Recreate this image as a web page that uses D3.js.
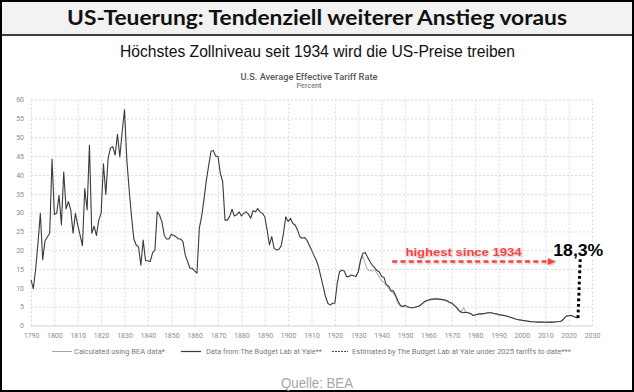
<!DOCTYPE html>
<html>
<head>
<meta charset="utf-8">
<script src="https://cdn.jsdelivr.net/npm/d3@7"></script>
<style>
  body { margin: 0; background: #fff; }
  svg { display: block; }
</style>
</head>
<body>
<div id="chart"></div>
<script>
/*** DATA *********************************************************************/

// Average effective tariff rate, The Budget Lab at Yale, one value per year from 1790
let yaleStart = 1790;
let yaleRates = [
  12.1, 9.8, 15, 22, 29.8, 17.5, 22.5, 23.5, 24.5, 44.2,       // 1790s
  29.5, 29.8, 34.6, 26.8, 40.8, 31, 32.9, 30.7, 24.5, 29.8,    // 1800s
  26.7, 24, 21.2, 36.4, 30.7, 47.9, 24.5, 26.4, 23.9, 28,      // 1810s
  29.8, 43, 34.8, 44.4, 47.2, 47.5, 45.3, 50.8, 44.8, 51.5,    // 1820s
  57.3, 44, 36, 29, 23, 21.4, 20.9, 16, 22.7, 17.2,            // 1830s
  17.2, 17, 19.3, 20, 30.2, 29.3, 27.6, 24, 23, 23,            // 1840s
  24.2, 24, 23.6, 23, 23, 22.3, 18.7, 17, 15.2, 15.2,          // 1850s
  14.5, 13.9, 25.8, 29, 33.5, 38.5, 42.5, 46.3, 46.5, 45,      // 1860s
  44.9, 40.5, 38.2, 28, 28, 29, 30.9, 29.1, 29.4, 30.2,        // 1870s
  29.1, 29.8, 30.2, 29.6, 28.5, 30.5, 30.2, 31.1, 30.2, 29.8,  // 1880s
  28.9, 25.4, 21.4, 23.6, 20.5, 20.1, 20.2, 21.1, 24.5, 28.9,  // 1890s
  27.6, 28.5, 27.1, 26.7, 25.4, 23.6, 23.2, 23.4, 22.7, 21.4,  // 1900s
  20.1, 18.7, 17.4, 15.6, 13, 10.3, 7.7, 5.9, 5.4, 5.9,        // 1910s
  5.9, 11.2, 14.3, 14.7, 14.5, 13, 13, 13.4, 13.2, 13,         // 1920s
  14.3, 17.4, 19.2, 19.4, 18.1, 17, 16, 15.4, 14.6, 14.2,      // 1930s
  13, 12.8, 10.8, 10.5, 9.2, 9.2, 8, 6.5, 5.4, 5,              // 1940s
  5.3, 5, 4.8, 4.7, 4.8, 5, 5.2, 5.6, 6.2, 6.6,                // 1950s
  6.8, 7, 7, 7.1, 7, 7, 6.9, 6.8, 6.6, 6.2,                    // 1960s
  6, 5.4, 4.9, 4.1, 3.6, 3.4, 3.5, 3.4, 3.2, 2.7,              // 1970s
  2.8, 3, 3.1, 3.1, 3.2, 3.3, 3.4, 3.4, 3.2, 3.1,              // 1980s
  2.9, 2.8, 2.7, 2.6, 2.4, 2.2, 2, 1.8, 1.6, 1.5,              // 1990s
  1.4, 1.3, 1.2, 1.1, 1.0, 1.0, 0.95, 0.9, 0.9, 0.9,           // 2000s
  0.85, 0.9, 0.9, 0.9, 0.95, 1.0, 1.05, 1.2, 1.8, 2.5,         // 2010s
  2.6, 2.7, 2.4, 2.2, 2.0                                      // 2020s
];

// Calculated using BEA data, one value per year from 1929
let beaStart = 1929;
let beaRates = [
  13,                                                          // 1929
  14.2, 17.2, 18.4, 16.4, 14.8, 14.6, 14.5, 14.8, 13.8, 13,    // 1930s
  11.8, 11.5, 10.5, 10, 9, 8.6, 7.5, 5.8, 5.2, 5.1,            // 1940s
  5.4, 5, 4.8, 4.7, 4.8, 5, 5.2, 5.5, 6, 6.4,                  // 1950s
  6.6, 6.8, 6.9, 7, 7, 6.9, 6.8, 6.6, 6.4, 6,                  // 1960s
  5.8, 5.2, 4.6, 3.8, 3.4, 4.8, 3.5, 3.4, 3.2, 2.7,            // 1970s
  2.8, 3, 3.1, 3.1, 3.2, 3.3, 3.4, 3.4, 3.2, 3.1,              // 1980s
  2.9, 2.8, 2.7, 2.6, 2.4, 2.2, 2, 1.8, 1.6, 1.5,              // 1990s
  1.4, 1.3, 1.2, 1.1, 1.0, 1.0, 0.95, 0.9, 0.9, 0.9,           // 2000s
  0.85, 0.9, 0.9, 0.9, 0.95, 1.0, 1.05, 1.2, 1.8, 2.5,         // 2010s
  2.6, 2.7, 2.4, 2.2, 2.0                                      // 2020s
];

// Estimated under 2025 tariffs to date
let estYears = [2024, 2025];
let estRates = [2.0, 18.3];

let xTicks = [1790, 1800, 1810, 1820, 1830, 1840, 1850, 1860, 1870, 1880, 1890, 1900,
              1910, 1920, 1930, 1940, 1950, 1960, 1970, 1980, 1990, 2000, 2010, 2020, 2030];
let yTicks = [0, 5, 10, 15, 20, 25, 30, 35, 40, 45, 50, 55, 60];

let legendLabels = [
  "Calculated using BEA data*",
  "Data from The Budget Lab at Yale**",
  "Estimated by The Budget Lab at Yale under 2025 tariffs to date***"
];

/*** CHART ********************************************************************/

let width = 634, height = 392;
let plot = {left: 31, right: 592, top: 99.7, bottom: 325.5};

let svg = d3.select("#chart").append("svg")
  .attr("width", width)
  .attr("height", height);

// frame + title bar
svg.append("rect")
  .attr("x", 1).attr("y", 1).attr("width", width - 2).attr("height", height - 2)
  .attr("fill", "#fff").attr("stroke", "#000").attr("stroke-width", 2);
svg.append("rect")
  .attr("x", 2).attr("y", 2).attr("width", width - 4).attr("height", 33)
  .attr("fill", "#f2f2f2");
svg.append("line")
  .attr("x1", 1).attr("x2", width - 1).attr("y1", 35).attr("y2", 35)
  .attr("stroke", "#000").attr("stroke-width", 1.5);

function fitText(sel, w) {
  // squeeze or stretch a label to the width it has in the reference
  sel.attr("textLength", w).attr("lengthAdjust", "spacingAndGlyphs");
  return sel;
}

fitText(svg.append("text")
  .attr("x", 317).attr("y", 25)
  .attr("text-anchor", "middle")
  .style("font-family", "Lato, 'Open Sans', sans-serif")
  .style("font-weight", "bold")
  .style("font-size", "20px")
  .attr("fill", "#111")
  .text("US-Teuerung: Tendenziell weiterer Anstieg voraus"), 500);

fitText(svg.append("text")
  .attr("x", 317.5).attr("y", 57)
  .attr("text-anchor", "middle")
  .style("font-family", "'Liberation Sans Narrow', 'Arial Narrow', 'Liberation Sans', sans-serif")
  .style("font-size", "17px")
  .attr("fill", "#111")
  .text("Höchstes Zollniveau seit 1934 wird die US-Preise treiben"), 395);

fitText(svg.append("text")
  .attr("x", 309).attr("y", 79.7)
  .attr("text-anchor", "middle")
  .style("font-family", "Roboto, sans-serif")
  .style("font-weight", 500)
  .style("font-size", "9px")
  .attr("fill", "#595959")
  .text("U.S. Average Effective Tariff Rate"), 137);

fitText(svg.append("text")
  .attr("x", 309).attr("y", 87.5)
  .attr("text-anchor", "middle")
  .style("font-family", "Roboto, sans-serif")
  .style("font-weight", 500)
  .style("font-size", "6.5px")
  .attr("fill", "#7f7f7f")
  .text("Percent"), 25);

let x = d3.scaleLinear().domain([1790, 2030]).range([plot.left, plot.right]);
let y = d3.scaleLinear().domain([0, 60]).range([plot.bottom, plot.top]);

/* grid + axes */
let yAxis = svg.append("g")
  .attr("transform", "translate(" + plot.left + ",0)")
  .call(d3.axisLeft(y).tickValues(yTicks).tickSize(-(plot.right - plot.left)).tickPadding(7));
let xAxis = svg.append("g")
  .attr("transform", "translate(0," + plot.bottom + ")")
  .call(d3.axisBottom(x).tickValues(xTicks).tickFormat(d3.format("d"))
    .tickSize(-(plot.bottom - plot.top)).tickPadding(7.5));

[xAxis, yAxis].forEach(function(g) {
  g.select(".domain").remove();
  g.selectAll(".tick line")
    .attr("stroke", "#d9d9d9")
    .attr("stroke-dasharray", "2,2");
  g.selectAll(".tick text")
    .style("font-family", "Roboto, sans-serif")
    .style("font-size", "7px")
    .attr("fill", "#8c8c8c");
});
yAxis.selectAll(".tick").filter(function(d) { return d === 0; }).select("line")
  .attr("stroke-dasharray", null).attr("stroke", "#d0d0d0");

/* series */
let line = d3.line()
  .x(function(d) { return x(d[0]); })
  .y(function(d) { return y(d[1]); });

let beaData = beaRates.map(function(v, i) { return [beaStart + i, v]; });
let yaleData = yaleRates.map(function(v, i) { return [yaleStart + i, v]; });
let estData = estYears.map(function(yr, i) { return [yr, estRates[i]]; });

svg.append("path")
  .datum(beaData)
  .attr("fill", "none")
  .attr("stroke", "#a6a6a6")
  .attr("stroke-width", 1)
  .attr("d", line);

svg.append("path")
  .datum(yaleData)
  .attr("fill", "none")
  .attr("stroke", "#3a3a3a")
  .attr("stroke-width", 1.1)
  .attr("stroke-linejoin", "round")
  .attr("d", line);

svg.append("path")
  .datum(estData)
  .attr("fill", "none")
  .attr("stroke", "#000")
  .attr("stroke-width", 3)
  .attr("stroke-dasharray", "2.8,2.8")
  .attr("d", line);

/* annotation */
let defs = svg.append("defs");
defs.append("filter").attr("id", "shadow")
  .attr("x", "-10%").attr("y", "-30%").attr("width", "120%").attr("height", "160%")
  .append("feDropShadow")
  .attr("dx", 1).attr("dy", 1).attr("stdDeviation", 0.8)
  .attr("flood-color", "#888").attr("flood-opacity", 0.6);

let red = "#ff4040";
let arrowY = y(17);
let arrowX1 = x(1944.5), arrowX2 = x(2014.5);

let annot = svg.append("g").attr("filter", "url(#shadow)");
annot.append("line")
  .attr("x1", arrowX1).attr("x2", arrowX2 - 7)
  .attr("y1", arrowY).attr("y2", arrowY)
  .attr("stroke", red).attr("stroke-width", 2.6)
  .attr("stroke-dasharray", "5,3.3");
annot.append("path")
  .attr("d", "M" + arrowX2 + "," + arrowY +
             " L" + (arrowX2 - 8) + "," + (arrowY - 3.6) +
             " L" + (arrowX2 - 8) + "," + (arrowY + 3.6) + " Z")
  .attr("fill", red);

fitText(annot.append("text")
  .attr("x", 463.5).attr("y", 255.7)
  .attr("text-anchor", "middle")
  .style("font-family", "'Liberation Sans', Arial, sans-serif")
  .style("font-weight", "bold")
  .style("font-size", "11.5px")
  .attr("fill", red)
  .text("highest since 1934"), 116);

fitText(svg.append("text")
  .attr("x", 578.3).attr("y", 255.7)
  .attr("text-anchor", "middle")
  .style("font-family", "'Liberation Sans', Arial, sans-serif")
  .style("font-weight", "bold")
  .style("font-size", "17px")
  .attr("fill", "#000")
  .text("18,3%"), 50);

/* legend */
let legendItems = [
  {label: legendLabels[0], x1: 52, x2: 72, tx: 74, tw: 91, color: "#a6a6a6", w: 1, dash: null},
  {label: legendLabels[1], x1: 181, x2: 201, tx: 206, tw: 116, color: "#3a3a3a", w: 1.2, dash: null},
  {label: legendLabels[2], x1: 332, x2: 348, tx: 352, tw: 219, color: "#3a3a3a", w: 0.9, dash: "2,1"}
];

let legendG = svg.selectAll(".legend")
  .data(legendItems)
  .enter().append("g")
  .attr("class", "legend");

legendG.append("line")
  .attr("x1", function(d) { return d.x1; })
  .attr("x2", function(d) { return d.x2; })
  .attr("y1", 351.5).attr("y2", 351.5)
  .attr("stroke", function(d) { return d.color; })
  .attr("stroke-width", function(d) { return d.w; })
  .attr("stroke-dasharray", function(d) { return d.dash; });

legendG.append("text")
  .attr("x", function(d) { return d.tx; })
  .attr("y", 354)
  .attr("textLength", function(d) { return d.tw; })
  .attr("lengthAdjust", "spacingAndGlyphs")
  .style("font-family", "Roboto, sans-serif")
  .style("font-size", "7.3px")
  .attr("fill", "#7a7a7a")
  .text(function(d) { return d.label; });

fitText(svg.append("text")
  .attr("x", 317).attr("y", 388)
  .attr("text-anchor", "middle")
  .style("font-family", "'Liberation Sans Narrow', 'Arial Narrow', 'Liberation Sans', sans-serif")
  .style("font-size", "14px")
  .attr("fill", "#a6a6a6")
  .text("Quelle: BEA"), 72);
</script>
</body>
</html>
